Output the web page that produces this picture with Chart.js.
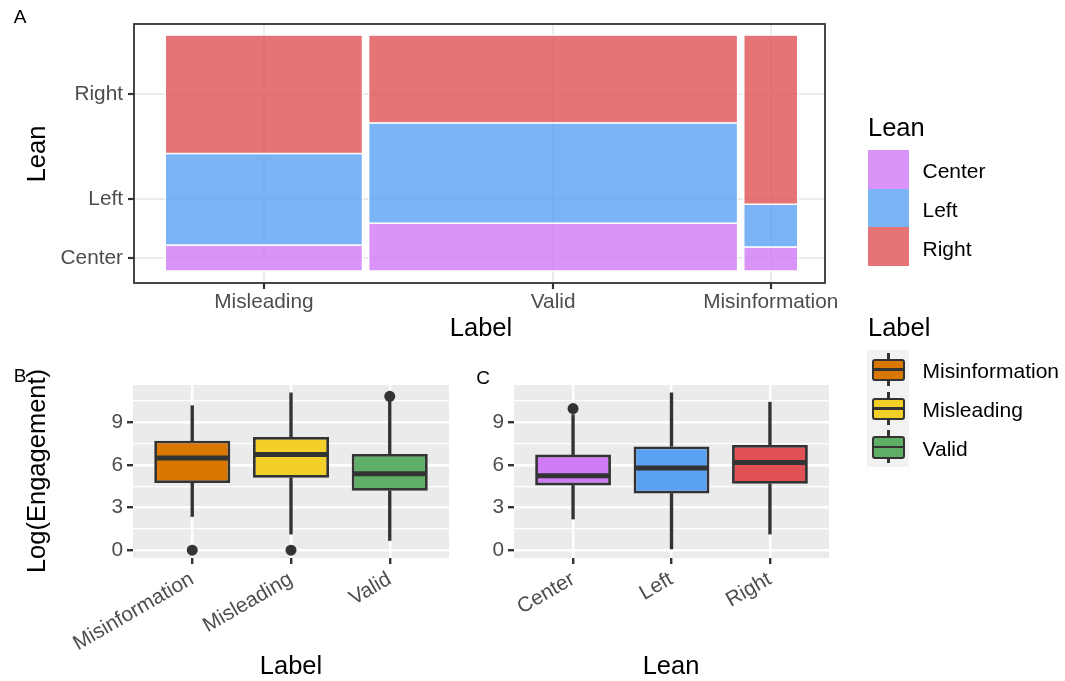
<!DOCTYPE html>
<html>
<head>
<meta charset="utf-8">
<title>Lean and engagement by label</title>
<script src="https://cdn.jsdelivr.net/npm/chart.js@4.4.1/dist/chart.umd.min.js"></script>
<style>
  body { margin: 0; background: #fff; font-family: "Liberation Sans", Arial, sans-serif; }
  #page { position: relative; width: 1065px; height: 681px; overflow: hidden; }
  #page canvas { position: absolute; left: 0; top: 0; }
  .txt { position: absolute; line-height: 1; white-space: nowrap; color: #000; }
  .mid { transform: translate(-50%, -50%); }
  .lft { transform: translateY(-50%); }
  .rot { transform: translate(-50%, -50%) rotate(-90deg); }
  .tag { font-size: 19px; }
  .title { font-size: 25.5px; }
  .item { font-size: 21px; }
  .blk { position: absolute; box-sizing: border-box; }
</style>
</head>
<body>
<div id="page">
  <canvas id="mosaic" width="1065" height="681"></canvas>
  <canvas id="byLabel" width="1065" height="681"></canvas>
  <canvas id="byLean" width="1065" height="681"></canvas>

  <div class="txt tag mid" style="left:20px;top:16px">A</div>
  <div class="txt tag mid" style="left:20px;top:375px">B</div>
  <div class="txt tag mid" style="left:483px;top:377px">C</div>

  <div class="txt title rot" style="left:37px;top:154px">Lean</div>
  <div class="txt title mid" style="left:481px;top:328px">Label</div>
  <div class="txt title rot" style="left:37px;top:471px">Log(Engagement)</div>
  <div class="txt title mid" style="left:291px;top:666px">Label</div>
  <div class="txt title mid" style="left:671px;top:666px">Lean</div>

  <div class="txt title lft" style="left:868px;top:128px">Lean</div>
  <div class="txt title lft" style="left:868px;top:328px">Label</div>
</div>
<script>
const FONT = "'Liberation Sans', Arial, sans-serif";
const TICK_FONT = { family: FONT, size: 20.8 };
const TICK_GREY = "#4D4D4D";
const DARK = "#333333";

/* A: share of each label, and lean split within each label */
const labelsA = ["Misleading", "Valid", "Misinformation"];
const labelShare = [0.318, 0.595, 0.087];
const leanNames = ["Center", "Left", "Right"];
const centerShare = [0.110, 0.203, 0.102];
const leftShare = [0.388, 0.425, 0.181];
const rightShare = [0.502, 0.372, 0.717];

/* B: log engagement by label */
const labelsB = ["Misinformation", "Misleading", "Valid"];
const labelLow = [2.37, 1.13, 0.68];
const labelQ1 = [4.73, 5.10, 4.18];
const labelMedian = [6.49, 6.73, 5.38];
const labelQ3 = [7.71, 7.97, 6.77];
const labelHigh = [10.18, 11.08, 10.55];
const labelOutliers = [[0], [0], [10.84]];

/* C: log engagement by lean */
const leanLow = [2.19, 0, 1.13];
const leanQ1 = [4.56, 3.99, 4.68];
const leanMedian = [5.24, 5.78, 6.18];
const leanQ3 = [6.73, 7.31, 7.41];
const leanHigh = [9.55, 11.08, 10.42];
const leanOutliers = [[9.97], [], []];

const engagementTicks = [0, 3, 6, 9];
const engagementMinor = [1.5, 4.5, 7.5, 10.5];

const leanColors = ["#CE7BF5", "#5AA1F2", "#E05155"];
const labelColors = ["#D97800", "#F3D028", "#5EAE66"];

function fade(hex, a) {
  const n = parseInt(hex.slice(1), 16);
  return `rgba(${n >> 16}, ${(n >> 8) & 255}, ${n & 255}, ${a})`;
}

/*
Mosaic (A)
*/
const COL_GAP = 0.01;
const colStart = [];
labelShare.reduce((acc, s) => { colStart.push(acc); return acc + s + COL_GAP; }, 0);
const colMid = labelShare.map((s, i) => colStart[i] + s / 2);
const leanStack = [centerShare, leftShare, rightShare];
const leanMid = [
  centerShare[0] / 2,
  centerShare[0] + leftShare[0] / 2,
  centerShare[0] + leftShare[0] + rightShare[0] / 2
];

const mosaicTiles = {
  id: "mosaicTiles",
  beforeDatasetsDraw(chart) {
    const { ctx, scales: { x, y } } = chart;
    ctx.save();
    labelsA.forEach((_, i) => {
      const x0 = x.getPixelForValue(colStart[i]);
      const x1 = x.getPixelForValue(colStart[i] + labelShare[i]);
      let base = 0;
      leanStack.forEach((share, k) => {
        const y0 = y.getPixelForValue(base);
        const y1 = y.getPixelForValue(base + share[i]);
        ctx.fillStyle = fade(leanColors[k], 0.8);
        ctx.fillRect(x0, y1, x1 - x0, y0 - y1);
        ctx.strokeStyle = "#FFFFFF";
        ctx.lineWidth = 1.4;
        ctx.strokeRect(x0, y1, x1 - x0, y0 - y1);
        base += share[i];
      });
    });
    ctx.restore();
  },
  afterDraw(chart) {
    const { ctx, chartArea: a } = chart;
    ctx.save();
    ctx.strokeStyle = DARK;
    ctx.lineWidth = 1.8;
    ctx.strokeRect(a.left, a.top, a.right - a.left, a.bottom - a.top);
    ctx.restore();
  }
};

new Chart(document.getElementById("mosaic"), {
  type: "scatter",
  data: { datasets: [] },
  options: {
    responsive: false,
    animation: false,
    layout: { padding: { left: 0, top: 24, right: 1065 - 825, bottom: 0 } },
    plugins: { legend: { display: false }, tooltip: { enabled: false } },
    scales: {
      x: {
        type: "linear", min: -0.0505, max: 1.064,
        afterFit: s => { s.height = 681 - 283; },
        afterBuildTicks: s => { s.ticks = colMid.map(v => ({ value: v })); },
        ticks: { callback: (v, i) => labelsA[i], font: TICK_FONT, color: TICK_GREY, padding: 1, maxRotation: 0, autoSkip: false },
        grid: { color: "#EBEBEB", lineWidth: 2, tickLength: 6, tickColor: DARK, tickWidth: 2.2 },
        border: { display: false }
      },
      y: {
        type: "linear", min: -0.051, max: 1.047,
        afterFit: s => { s.width = 134; },
        afterBuildTicks: s => { s.ticks = leanMid.map(v => ({ value: v })); },
        ticks: { callback: (v, i) => leanNames[i], font: TICK_FONT, color: TICK_GREY, padding: 5, autoSkip: false },
        grid: { color: "#EBEBEB", lineWidth: 2, tickLength: 6, tickColor: DARK, tickWidth: 2.2 },
        border: { display: false }
      }
    }
  },
  plugins: [mosaicTiles]
});

/*
Box plots (B, C)
*/
const panelFill = {
  id: "panelFill",
  beforeDraw(chart) {
    const { ctx, chartArea: a } = chart;
    ctx.save();
    ctx.fillStyle = "#EBEBEB";
    ctx.fillRect(a.left, a.top, a.right - a.left, a.bottom - a.top);
    ctx.restore();
  }
};

function boxChart(canvasId, cats, colors, low, q1, median, q3, high, outliers, area) {
  const pos = cats.map((_, i) => i + 1);
  const points = [];
  outliers.forEach((vals, i) => vals.forEach(v => points.push({ x: pos[i], y: v })));

  const medians = {
    id: "medians",
    afterDatasetsDraw(chart) {
      const { ctx, scales: { y } } = chart;
      const boxes = chart.getDatasetMeta(1).data;
      ctx.save();
      ctx.strokeStyle = DARK;
      ctx.lineWidth = 5;
      boxes.forEach((bar, i) => {
        const py = y.getPixelForValue(median[i]);
        ctx.beginPath();
        ctx.moveTo(bar.x - bar.width / 2 + 1, py);
        ctx.lineTo(bar.x + bar.width / 2 - 1, py);
        ctx.stroke();
      });
      ctx.restore();
    }
  };

  const isMajor = v => engagementTicks.includes(v);

  return new Chart(document.getElementById(canvasId), {
    type: "bar",
    data: {
      datasets: [
        {
          type: "scatter", order: 0,
          data: points,
          pointRadius: 5.5, pointBackgroundColor: DARK, pointBorderWidth: 0
        },
        {
          order: 1, grouped: false,
          data: pos.map((x, i) => ({ x, y: [q1[i], q3[i]] })),
          backgroundColor: colors, borderColor: DARK, borderWidth: 2.8, borderSkipped: false,
          barPercentage: 0.77, categoryPercentage: 1
        },
        {
          order: 2, grouped: false,
          data: pos.map((x, i) => ({ x, y: [low[i], q1[i]] })),
          backgroundColor: DARK, barThickness: 2.7
        },
        {
          order: 2, grouped: false,
          data: pos.map((x, i) => ({ x, y: [q3[i], high[i]] })),
          backgroundColor: DARK, barThickness: 2.7
        }
      ]
    },
    options: {
      responsive: false,
      animation: false,
      layout: { padding: { left: 0, top: area.top, right: 1065 - area.right, bottom: 0 } },
      plugins: { legend: { display: false }, tooltip: { enabled: false } },
      scales: {
        x: {
          type: "linear", min: 0.4, max: 3.6, offset: false,
          afterFit: s => { s.height = 681 - area.bottom; },
          afterBuildTicks: s => { s.ticks = pos.map(v => ({ value: v })); },
          ticks: { callback: v => cats[v - 1], font: TICK_FONT, color: TICK_GREY, padding: 3, minRotation: 30, maxRotation: 30, autoSkip: false },
          grid: { offset: false, color: "#FFFFFF", lineWidth: 2.4, tickLength: 6, tickColor: DARK, tickWidth: 2.4 },
          border: { display: false }
        },
        y: {
          type: "linear", min: -0.554, max: 11.634,
          afterFit: s => { s.width = area.left; },
          afterBuildTicks: s => {
            s.ticks = engagementTicks.concat(engagementMinor).sort((a, b) => a - b).map(v => ({ value: v }));
          },
          ticks: { callback: v => (isMajor(v) ? String(v) : ""), font: TICK_FONT, color: TICK_GREY, padding: 4, autoSkip: false },
          grid: {
            color: "#FFFFFF",
            lineWidth: c => (c.tick && isMajor(c.tick.value) ? 2.4 : 1.2),
            tickLength: 6,
            tickColor: c => (c.tick && isMajor(c.tick.value) ? DARK : "rgba(0,0,0,0)"),
            tickWidth: 2.4
          },
          border: { display: false }
        }
      }
    },
    plugins: [panelFill, medians]
  });
}

boxChart("byLabel", labelsB, labelColors, labelLow, labelQ1, labelMedian, labelQ3, labelHigh, labelOutliers,
  { left: 133, right: 449, top: 385, bottom: 558 });
boxChart("byLean", leanNames, leanColors, leanLow, leanQ1, leanMedian, leanQ3, leanHigh, leanOutliers,
  { left: 514, right: 829, top: 385, bottom: 558 });

/*
Legends
*/
const page = document.getElementById("page");

function addBlock(style) {
  const d = document.createElement("div");
  d.className = "blk";
  Object.assign(d.style, style);
  page.appendChild(d);
  return d;
}

function addItem(text, x, y) {
  const d = document.createElement("div");
  d.className = "txt item lft";
  d.textContent = text;
  d.style.left = x + "px";
  d.style.top = y + "px";
  page.appendChild(d);
}

leanNames.forEach((name, k) => {
  addBlock({ left: "868px", top: (150 + k * 38.6) + "px", width: "41px", height: "38.6px", background: fade(leanColors[k], 0.8) });
  addItem(name, 922.5, 170 + k * 38.8);
});

addBlock({ left: "867px", top: "350px", width: "42px", height: "117px", background: "#F2F2F2" });
labelsB.forEach((name, k) => {
  const top = 350 + k * 38.6;
  addBlock({ left: "887px", top: (top + 3) + "px", width: "2.6px", height: "33px", background: DARK });
  const box = addBlock({
    left: "871.7px", top: (top + 9.2) + "px", width: "33.4px", height: "22.2px",
    background: labelColors[k], border: "2.6px solid " + DARK, borderRadius: "3px"
  });
  const med = document.createElement("div");
  Object.assign(med.style, { position: "absolute", left: "0", right: "0", top: "7.2px", height: "2.6px", background: DARK });
  box.appendChild(med);
  addItem(name, 922.5, 370 + k * 38.8);
});
</script>
</body>
</html>
